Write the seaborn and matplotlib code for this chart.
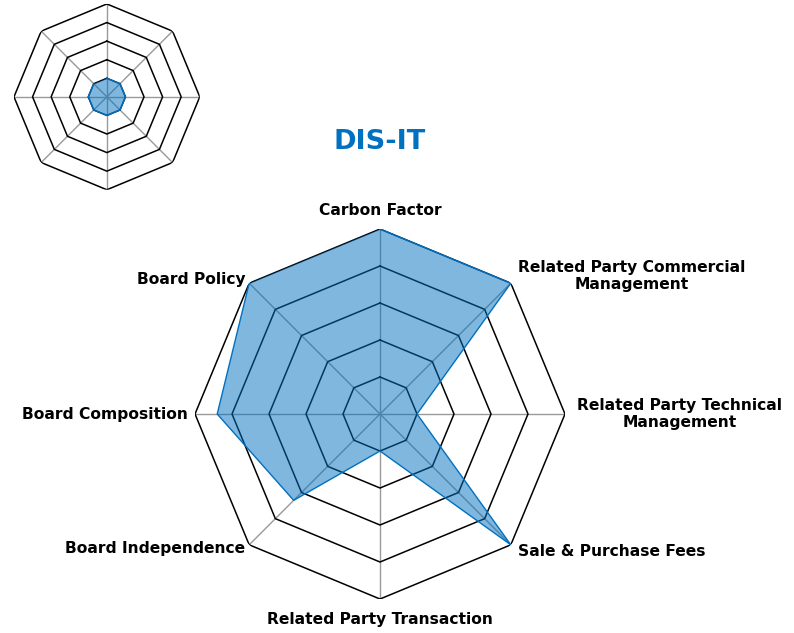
import numpy as np
import pandas as pd
import matplotlib
matplotlib.use("Agg")
import matplotlib.pyplot as plt
import seaborn as sns

categories = ["Carbon Factor", "Related Party Commercial\nManagement",
              "Related Party Technical\nManagement", "Sale & Purchase Fees",
              "Related Party Transaction", "Board Independence",
              "Board Composition", "Board Policy"]
scores = [5, 5, 1, 5, 1, 3.3, 4.4, 5]
inset_scores = [1, 1, 1, 1, 1, 1, 1, 1]
rings = [1, 2, 3, 4, 5]
title = "DIS-IT"

sns.set_style("white")
plt.rcParams['font.family'] = ['DejaVu Sans']

fill_col = "#0070C0"
n = len(categories)
theta = np.linspace(0, 2 * np.pi, n, endpoint=False)


def radar(ax, values, labels=None):
    ax.set_theta_zero_location("N")
    ax.set_theta_direction(-1)
    ax.grid(False)
    ax.spines['polar'].set_visible(False)
    ax.set_xticks([])
    ax.set_yticks([])
    ax.set_ylim(0, 5)
    closed = np.append(theta, theta[0])
    # spokes
    for t in theta:
        ax.plot([t, t], [0, 5], color="#999999", lw=1, zorder=1)
    # octagon rings
    for r in rings:
        ax.plot(closed, [r] * (n + 1), color="black", lw=1.1, zorder=2)
    df = pd.DataFrame({"theta": closed, "score": np.append(values, values[0])})
    ax.fill(df["theta"], df["score"], color=fill_col, alpha=0.5, lw=0, zorder=3)
    sns.lineplot(data=df, x="theta", y="score", sort=False, ax=ax,
                 color=fill_col, lw=1, zorder=4)
    ax.set_xlabel("")
    ax.set_ylabel("")
    if labels is None:
        return
    for t, lab in zip(theta, labels):
        s, c = np.sin(t), np.cos(t)
        if abs(s) < 1e-6:
            ha = "center"
            r = 5.3 if c > 0 else 5.35
            va = "bottom" if c > 0 else "top"
        else:
            ha = "left" if s > 0 else "right"
            va = "center"
            if abs(c) < 1e-6:
                r = 5.32 if s > 0 else 5.2
            else:
                r = 5.27 if s > 0 else 5.15
        ax.text(t, r, lab, ha=ha, va=va, multialignment="center",
                fontsize=11.2, fontweight="bold", color="black")


fig = plt.figure(figsize=(7.94, 6.33), dpi=100)
ax = fig.add_axes([0.2456, 0.0537, 0.466, 0.5845], projection="polar")
radar(ax, scores, categories)

ax2 = fig.add_axes([0.0176, 0.700, 0.234, 0.294], projection="polar")
radar(ax2, inset_scores)

fig.text(380 / 794, 1 - 142 / 633, title, ha="center", va="center",
         fontsize=19.5, fontweight="bold", color=fill_col)

fig.savefig("out.png", dpi=100)
